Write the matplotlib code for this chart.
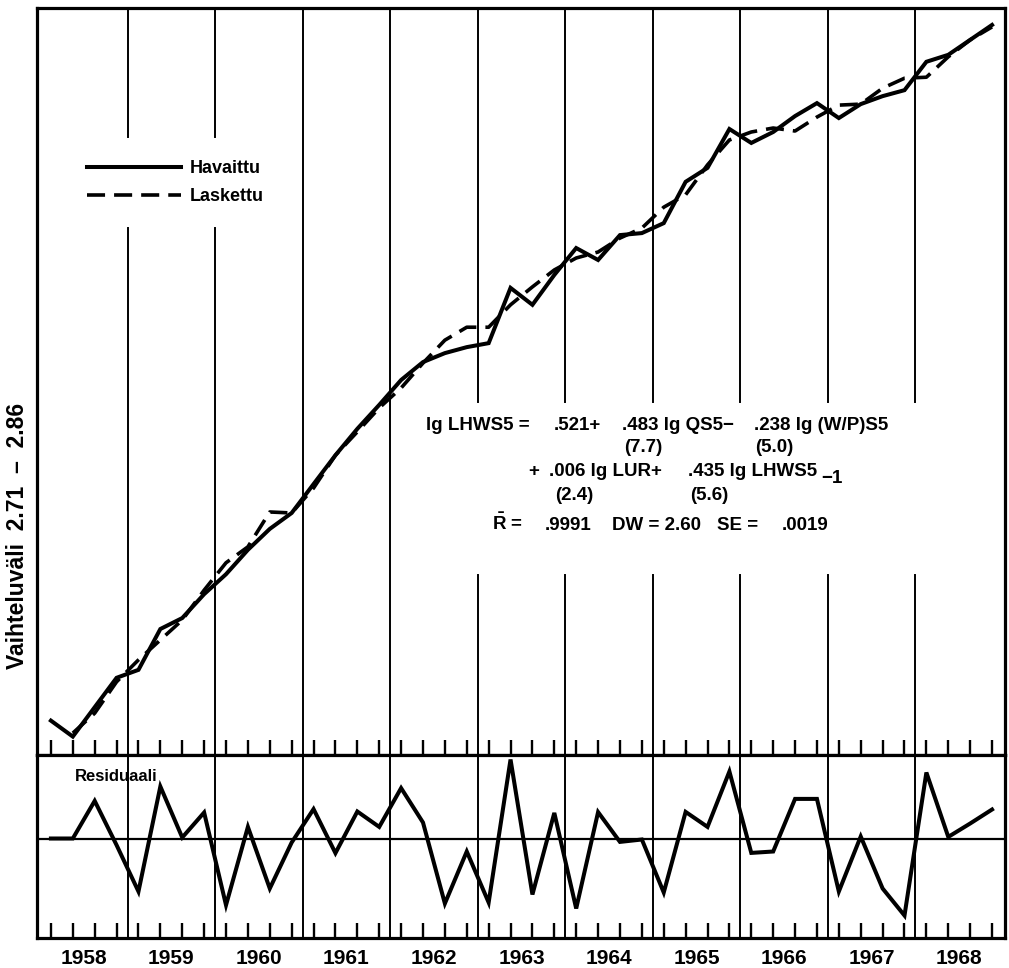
import numpy as np
import matplotlib.pyplot as plt
from matplotlib.lines import Line2D

plt.rcParams['font.family'] = ['Liberation Sans', 'DejaVu Sans']
plt.rcParams['font.weight'] = 'bold'
plt.rcParams['mathtext.fontset'] = 'custom'
plt.rcParams['mathtext.rm'] = 'Liberation Sans:bold'
plt.rcParams['mathtext.bf'] = 'Liberation Sans:bold'

# quarterly data 1958Q1 - 1968Q4, lg LHWS5
years = list(range(1958, 1969))

observed = [2.7169, 2.7137, 2.7196, 2.7255,
            2.7271, 2.7353, 2.7375, 2.7423,
            2.7463, 2.7512, 2.7554, 2.7586,
            2.7644, 2.7702, 2.7755, 2.7803,
            2.7853, 2.7889, 2.7907, 2.7919,
            2.7927, 2.8038, 2.8004, 2.8064,
            2.8118, 2.8094, 2.8144, 2.8148,
            2.8168, 2.8251, 2.8279, 2.8357,
            2.8329, 2.8351, 2.8383, 2.8409,
            2.8379, 2.8407, 2.8423, 2.8435,
            2.8492, 2.8506, 2.8536, 2.8566]

computed = [np.nan, 2.7144, 2.7184, 2.7247,
            2.7291, 2.7331, 2.7371, 2.7431,
            2.7486, 2.7518, 2.7588, 2.7586,
            2.7636, 2.7702, 2.7749, 2.7797,
            2.7837, 2.7887, 2.7933, 2.7959,
            2.7959, 2.8004, 2.8040, 2.8074,
            2.8098, 2.8110, 2.8138, 2.8158,
            2.8200, 2.8225, 2.8285, 2.8335,
            2.8351, 2.8359, 2.8353, 2.8381,
            2.8405, 2.8407, 2.8439, 2.8459,
            2.8461, 2.8502, 2.8536, 2.8562]

residual = [0.0, 0.0, 0.00188, -0.00033,
            -0.00265, 0.00260, 0.00005, 0.00130,
            -0.00333, 0.00058, -0.00250, -0.00020,
            0.00147, -0.00073, 0.00135, 0.00058,
            0.00252, 0.00080, -0.00325, -0.00065,
            -0.00320, 0.00395, -0.00280, 0.00128,
            -0.00350, 0.00132, -0.00017, -0.00005,
            -0.00270, 0.00133, 0.00058, 0.00335,
            -0.00072, -0.00065, 0.00198, 0.00198,
            -0.00265, 0.00010, -0.00250, -0.00385,
            0.00330, 0.00008, 0.00075, 0.00145]

x = np.repeat(years, 4) + np.tile([0.125, 0.375, 0.625, 0.875], len(years))

W, H = 1009, 968
fig = plt.figure(figsize=(W / 100, H / 100), dpi=100)
ax = fig.add_axes([37 / W, 1 - 755 / H, 968 / W, 747 / H])
axr = fig.add_axes([37 / W, 1 - 938 / H, 968 / W, 183 / H])

xlim = (1957.966, 1969.023)
for a in (ax, axr):
    a.set_xlim(*xlim)
    for s in a.spines.values():
        s.set_linewidth(2.3)
    a.set_yticks([])
    a.set_xticks(x)
    a.tick_params(axis='x', which='major', direction='in', length=11,
                  width=1.7, labelbottom=False)

ax.set_ylim(2.71, 2.86)
axr.set_ylim(-0.004975, 0.004175)

# year boundaries
for yr in years[1:]:
    if yr in (1959, 1960):
        ax.axvline(yr, 0, 0.7055, color='black', lw=1.4)
        ax.axvline(yr, 0.8273, 1, color='black', lw=1.4)
    elif yr >= 1963:
        ax.axvline(yr, 0, 0.2410, color='black', lw=1.4)
        ax.axvline(yr, 0.4726, 1, color='black', lw=1.4)
    else:
        ax.axvline(yr, color='black', lw=1.4)
    axr.axvline(yr, color='black', lw=1.4)

ax.plot(x, computed, color='black', lw=2.6, linestyle=(0, (5, 2.5)))
ax.plot(x, observed, color='black', lw=2.9, solid_joinstyle='miter')

axr.axhline(0, color='black', lw=1.6)
axr.plot(x, residual, color='black', lw=2.9, solid_joinstyle='miter')

# year labels
axr.set_xticks([y + 0.5 for y in years], minor=True)
axr.set_xticklabels([str(y) for y in years], minor=True)
axr.tick_params(axis='x', which='minor', length=0, pad=8, labelsize=15)

handles = [Line2D([], [], color='black', lw=2.9),
           Line2D([], [], color='black', lw=2.6, linestyle=(0, (5, 2.5)))]
ax.legend(handles, ['Havaittu', 'Laskettu'], loc='upper left',
          bbox_to_anchor=(0.0517, 0.796), frameon=False, borderpad=0,
          borderaxespad=0, handlelength=5.2, handletextpad=0.5,
          labelspacing=0.6, prop={'weight': 'bold', 'size': 13})

axr.text((75 - 37) / 968, 0.88, 'Residuaali', transform=axr.transAxes,
         fontsize=12, fontweight='bold', va='center', ha='left')

fig.text(18 / W, 1 - 536 / H, 'Vaihteluväli  2.71  –  2.86', rotation=90,
         ha='center', va='center', fontsize=16.5, fontweight='bold')

# regression equation
eq = [
    (426, 425, 'lg LHWS5 ='), (554, 425, '.521+'), (622, 425, '.483 lg QS5−'),
    (754, 425, '.238 lg (W/P)S5'),
    (624, 448, '(7.7)'), (755, 448, '(5.0)'),
    (528, 472, '+'), (549, 472, '.006 lg LUR+'), (688, 472, '.435 lg LHWS5'),
    (821, 479, '−1'),
    (555, 495, '(2.4)'), (690, 495, '(5.6)'),
    (492, 523, r'$\bar{\mathbf{R}}$ ='), (545, 525, '.9991'),
    (612, 525, 'DW = 2.60'), (717, 525, 'SE ='), (782, 525, '.0019'),
]
for px, py, s in eq:
    fig.text(px / W, 1 - py / H, s, ha='left', va='center',
             fontsize=13.5, fontweight='bold')

fig.savefig('out.png', dpi=100)
